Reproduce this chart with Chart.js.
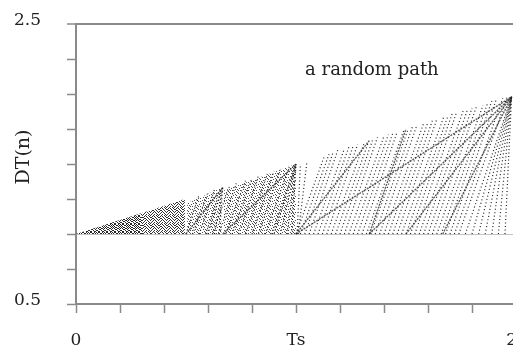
<!DOCTYPE html>
<html>
<head>
<meta charset="utf-8">
<script src="https://cdn.jsdelivr.net/npm/chart.js@4.4.1/dist/chart.umd.min.js"></script>
<style>
html, body { margin: 0; padding: 0; background: #fff; overflow: hidden; }
canvas { display: block; }
</style>
</head>
<body>
<canvas id="chart" width="530" height="351"></canvas>
<script>
// tick texts
var xLabelValues = [0, 1, 1.98];
var xLabelTexts = ['0', 'Ts', '2'];
var yLabelValues = [0.5, 2.5];
var yLabelTexts = ['0.5', '2.5'];
var yTitle = 'DT(n)';
var note = 'a random path';
var notePos = [1.345, 2.134];

// level every path drops back to
var resetLevel = 1;

// stippled teeth on the left half (t from, t to, top value at each end)
var toothFromT = [0, 0.3, 0.505, 0.672];
var toothToT = [0.3, 0.495, 0.662, 1];
var toothFromV = [1, 1.15, 1.22, 1.31];
var toothToV = [1.15, 1.25, 1.33, 1.5];

// dotted strands: start t on the reset level, end point
var lightFromT = [1.005, 1.01,
  1.00, 1.02, 1.04, 1.06, 1.08, 1.10, 1.12, 1.14, 1.16, 1.18, 1.20, 1.22, 1.24, 1.26, 1.28,
  1.30, 1.32, 1.34, 1.36, 1.38, 1.40, 1.42, 1.44, 1.46, 1.48, 1.50, 1.52, 1.54, 1.56, 1.58,
  1.60, 1.62, 1.64, 1.66, 1.68, 1.70, 1.72, 1.74,
  1.77, 1.80, 1.83, 1.86, 1.89, 1.92, 1.95,
  0.50, 0.53, 0.56, 0.59, 0.62, 0.65, 0.68, 0.71, 0.74, 0.77, 0.80, 0.83, 0.86, 0.89,
  0.90, 0.93, 0.96, 0.98, 0.60, 0.63, 0.65];
var lightToT = [1.02, 1.05,
  1.13, 1.15, 1.17, 1.19, 1.22, 1.24, 1.26, 1.28, 1.31, 1.33, 1.35, 1.37, 1.40, 1.42, 1.44,
  1.46, 1.49, 1.51, 1.53, 1.55, 1.58, 1.60, 1.62, 1.64, 1.67, 1.69, 1.71, 1.73, 1.76, 1.78,
  1.80, 1.82, 1.85, 1.87, 1.89, 1.91, 1.94, 1.96,
  1.98, 1.98, 1.98, 1.98, 1.98, 1.98, 1.98,
  0.56, 0.60, 0.63, 0.66, 0.70, 0.73, 0.77, 0.80, 0.83, 0.87, 0.90, 0.93, 0.97, 1.00,
  1, 1, 1, 1, 0.667, 0.667, 0.667];
var lightToV = [1.50, 1.52,
  1.56, 1.57, 1.59, 1.60, 1.61, 1.62, 1.63, 1.64, 1.65, 1.66, 1.68, 1.69, 1.70, 1.71, 1.72,
  1.73, 1.74, 1.75, 1.77, 1.78, 1.79, 1.80, 1.81, 1.82, 1.83, 1.84, 1.86, 1.87, 1.88, 1.89,
  1.90, 1.91, 1.92, 1.93, 1.95, 1.96, 1.97, 1.98,
  1.98, 1.98, 1.98, 1.98, 1.98, 1.98, 1.98,
  1.28, 1.30, 1.32, 1.33, 1.35, 1.37, 1.38, 1.40, 1.42, 1.43, 1.45, 1.47, 1.48, 1.50,
  1.5, 1.5, 1.5, 1.5, 1.333, 1.333, 1.333];

// darker strands
var heavyFromT = [1, 1.333, 1.5, 0.667, 1, 1.333, 0.5, 1.667];
var heavyToT = [1.98, 1.98, 1.98, 1, 1.333, 1.5, 0.667, 1.98];
var heavyToV = [1.98, 1.98, 1.98, 1.5, 1.667, 1.75, 1.333, 1.98];

var axisGray = '#8a8a8a';
var ctx = document.getElementById('chart').getContext('2d');

// rows of dot columns for an 8x8 stipple tile
function stipple(rows, alpha) {
  var tile = document.createElement('canvas');
  tile.width = 8;
  tile.height = 8;
  var g = tile.getContext('2d');
  g.fillStyle = 'rgba(0,0,0,' + alpha + ')';
  rows.forEach(function (cols, r) {
    cols.forEach(function (col) { g.fillRect(col, r, 1, 1); });
  });
  return ctx.createPattern(tile, 'repeat');
}

var densePat = stipple([[0,2,3,6],[1,4,5,7],[0,2,6],[1,3,4,7],[0,2,5,6],[3,4,7],[0,1,5],[2,3,6,7]], 0.85);
var midPat = stipple([[0,2,5],[3,6,7],[0,4,1],[2,5,7],[6,1,3],[0,4],[5,7,2],[1,4,6]], 0.8);
var lightPat = stipple([[2,5],[6,0],[3],[4,1],[7],[3,5],[6,0],[4]], 0.7);
var toothPats = [densePat, midPat, lightPat, lightPat];

var datasets = [];
for (var i = 0; i < toothFromT.length; i++) {
  datasets.push({
    data: [{x: toothFromT[i], y: toothFromV[i]}, {x: toothToT[i], y: toothToV[i]}],
    fill: {value: resetLevel},
    backgroundColor: toothPats[i],
    borderWidth: 0,
    pointRadius: 0,
    order: 3
  });
}
for (var j = 0; j < lightFromT.length; j++) {
  datasets.push({
    data: [{x: lightFromT[j], y: resetLevel}, {x: lightToT[j], y: lightToV[j]}],
    borderColor: 'rgba(10,10,10,0.9)',
    borderWidth: 1.2,
    borderDash: [1, 2.5],
    pointRadius: 0,
    fill: false,
    order: 2
  });
}
for (var k = 0; k < heavyFromT.length; k++) {
  datasets.push({
    data: [{x: heavyFromT[k], y: resetLevel}, {x: heavyToT[k], y: heavyToV[k]}],
    borderColor: 'rgba(40,40,40,0.75)',
    borderWidth: 1.4,
    borderDash: [2, 1],
    pointRadius: 0,
    fill: false,
    order: 1
  });
}

var textPlugin = {
  id: 'texts',
  afterDraw: function (chart) {
    var c = chart.ctx;
    var x = chart.scales.x, y = chart.scales.y;
    var area = chart.chartArea;
    c.save();
    c.fillStyle = '#222';
    c.font = '17px "DejaVu Serif"';
    c.textBaseline = 'alphabetic';
    c.textAlign = 'right';
    yLabelValues.forEach(function (v, i) {
      c.fillText(yLabelTexts[i], area.left - 35, y.getPixelForValue(v) + 1);
    });
    c.textAlign = 'center';
    xLabelValues.forEach(function (v, i) {
      c.fillText(xLabelTexts[i], x.getPixelForValue(v), area.bottom + 41);
    });
    c.font = '18px "DejaVu Serif"';
    c.fillText(note, x.getPixelForValue(notePos[0]), y.getPixelForValue(notePos[1]));
    c.translate(area.left - 52, area.top + 133);
    c.rotate(-Math.PI / 2);
    c.font = '19px "DejaVu Serif"';
    c.textBaseline = 'middle';
    c.fillText(yTitle, 0, 0);
    c.restore();
  }
};

new Chart(ctx, {
  type: 'line',
  data: {datasets: datasets},
  options: {
    responsive: false,
    animation: false,
    layout: {padding: {left: 67, top: 24, right: 14, bottom: 38}},
    plugins: {legend: {display: false}, tooltip: {enabled: false}},
    scales: {
      x: {
        type: 'linear',
        min: 0,
        max: 2,
        border: {color: axisGray, width: 2},
        grid: {color: 'transparent', tickColor: axisGray, tickLength: 9, tickWidth: 1.5},
        ticks: {stepSize: 0.2, autoSkip: false, display: false},
        afterFit: function (s) { s.height = 9; }
      },
      y: {
        min: 0.5,
        max: 2.5,
        border: {color: axisGray, width: 2},
        grid: {
          color: function (c) {
            if (!c.tick) return 'transparent';
            if (Math.abs(c.tick.value - 2.5) < 1e-6) return axisGray;
            if (Math.abs(c.tick.value - resetLevel) < 1e-6) return '#c4c4c4';
            return 'transparent';
          },
          lineWidth: function (c) {
            return c.tick && Math.abs(c.tick.value - 2.5) < 1e-6 ? 2 : 1;
          },
          tickColor: axisGray,
          tickLength: 9,
          tickWidth: 1.5
        },
        ticks: {stepSize: 0.25, autoSkip: false, display: false},
        afterFit: function (s) { s.width = 9; }
      }
    }
  },
  plugins: [textPlugin]
});
</script>
</body>
</html>
